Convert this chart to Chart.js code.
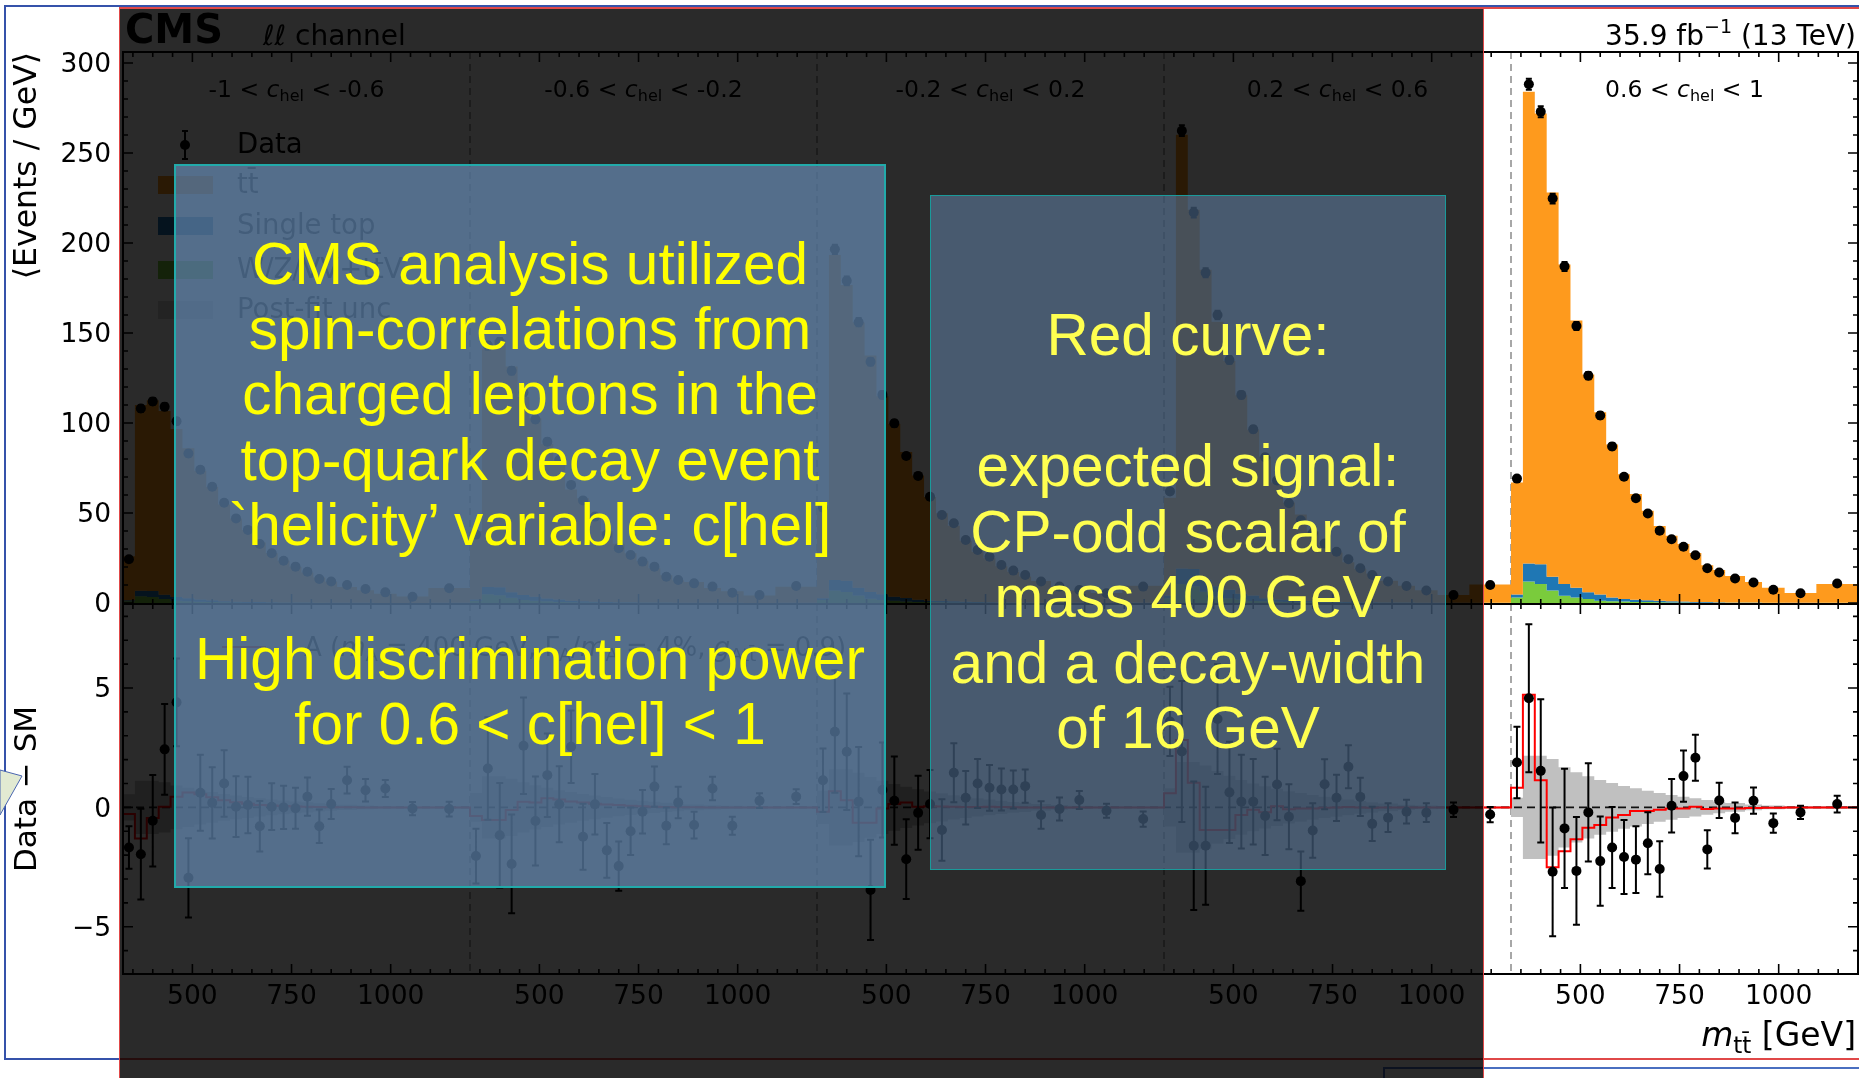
<!DOCTYPE html>
<html><head><meta charset="utf-8">
<script src="https://cdn.jsdelivr.net/npm/chart.js@4.4.1/dist/chart.umd.min.js"></script>
<style>
html,body{margin:0;padding:0;background:#fff;}
body{width:1859px;height:1078px;position:relative;overflow:hidden;font-family:'DejaVu Sans',sans-serif;}
canvas{position:absolute;left:0;top:0;}
.ln{position:absolute;}
.box{position:absolute;box-sizing:border-box;}
.txt{position:absolute;text-align:center;white-space:pre;font-family:'Liberation Sans',Arial,sans-serif;font-size:58.5px;line-height:65.4px;}
</style></head><body>
<div class="ln" style="left:5px;top:5px;width:1854px;height:2px;background:#3552aa"></div>
<div class="ln" style="left:4px;top:5px;width:2px;height:1055px;background:#3552aa"></div>
<div class="ln" style="left:4px;top:1058px;width:116px;height:2px;background:#3552aa"></div>
<canvas id="cTop" width="1859" height="1078"></canvas>
<canvas id="cBot" width="1859" height="1078"></canvas>
<div class="ln" style="left:119px;top:1058px;width:1740px;height:1.5px;background:#e04848"></div>
<div class="ln" style="left:1384px;top:1067px;width:475px;height:1.5px;background:#4a6fc0"></div>
<div class="ln" style="left:1383px;top:1067px;width:1.5px;height:11px;background:#4a6fc0"></div>
<svg style="position:absolute;left:0;top:760px" width="30" height="60"><polygon points="0,10 22,16 0,55" fill="#e2ead2" stroke="#4a66b0" stroke-width="1"/></svg>
<div class="box" style="left:119px;top:8px;width:1364px;height:1070px;background:rgba(0,0,0,0.835)"></div>
<div class="ln" style="left:119px;top:7px;width:1740px;height:1.5px;background:#e04848"></div>
<div class="ln" style="left:118.5px;top:7px;width:1.5px;height:1071px;background:#e04848"></div>
<div class="ln" style="left:1482.5px;top:7px;width:1.5px;height:1071px;background:#e04848"></div>
<div class="box" style="left:174px;top:164px;width:712px;height:724px;background:rgba(112,155,204,0.6);border:2px solid #22aaaa"></div>
<div class="box" style="left:930px;top:195px;width:516px;height:675px;background:rgba(112,155,204,0.42);border:1.5px solid #1a9a9a"></div>
<div class="txt" style="left:174px;top:230.5px;width:712px;color:#ffff00">CMS analysis utilized
spin-correlations from
charged leptons in the
top-quark decay event
`helicity’ variable: c[hel]</div>
<div class="txt" style="left:174px;top:625.5px;width:712px;color:#ffff00;line-height:65px">High discrimination power
for 0.6 &lt; c[hel] &lt; 1</div>
<div class="txt" style="left:930px;top:302px;width:516px;color:#ffff50;line-height:65.5px">Red curve:

expected signal:
CP-odd scalar of
mass 400 GeV
and a decay-width
of 16 GeV</div>
<script>
// ---------- data ----------
const binEdges = [325,355,385,415,445,475,505,535,565,595,625,655,685,715,745,775,805,835,865,915,958,1015,1095,1200];
const panelRanges = [['-1','-0.6'],['-0.6','-0.2'],['-0.2','0.2'],['0.2','0.6'],['0.6','1']];
const xTickLabels = [500,750,1000];
const yTicksUpper = [0,50,100,150,200,250,300];
const yTicksLower = [-5,0,5];

const dataEvents = [
 [24.3,108,112,109,101,83,74,64.6,55.7,47,40.6,32.8,27.6,23.5,20.2,17.4,13.3,11.9,10,7.8,5.9,3.5,8.2],
 [38,143,145,129,117,102,89.6,79.4,65.6,57,48,38,30.4,26.7,23,20.2,14.6,12.8,10.9,9.1,5.7,4.4,9.4],
 [53,196.5,179,156,134,115.6,99.8,81.7,70.6,59,48.9,44.3,35,29.4,25.7,21.1,18,15.6,11.9,9.1,7.2,5.4,9.1],
 [62,262.4,216.9,183.5,160,135,115.6,96.5,81,68,55.4,46,38.7,33,28.5,24.3,19.3,15.6,11.9,9.4,6.9,4.4,10],
 [69.1,288.2,272.9,224.7,187,153.9,126.3,104.2,87,70.1,58.2,49.7,40.2,35.4,31.2,26.5,19.3,16.9,13.6,11.4,7.4,5.4,10.8]
];
const predTotal = [
 [26.0,110,112.6,106.6,96.6,86,73.4,64.4,54.7,47,40.5,33.6,27.6,23.5,20.2,17,14.1,11.8,8.9,7.1,5.1,3.55,8.3],
 [40,141.4,146.2,131.4,114.4,102.6,88.3,79.3,63.1,58.2,47.9,39.8,32.9,27.7,23.2,19.3,15.4,12.6,11.6,8.3,6.5,4.1,9.0],
 [51.9,193.3,176.7,155.8,137.5,114.9,99.5,83.9,70.8,58.9,49.9,42.9,34.6,28.4,24.9,20.4,17.3,14.7,12.2,9.2,6.9,5.5,9.6],
 [58.4,260.1,218.5,185.1,156.3,134.4,115.4,96.3,81.4,67,55.8,49.1,39.7,32,28.1,22.6,18.9,16.3,12.3,9.6,7.1,4.5,10.3],
 [67,284,272,228,188,157,127,106,88,71.5,60.6,51.3,42.8,37.4,32.8,27.8,20.9,18.3,15,11.6,8.4,5.6,10.6]
];
const singleTop = [
 [0.5,3.1,3.4,2.4,2.0,1.7,1.2,1.0,0.6,0.45,0.4,0.3,0.25,0.2,0.15,0.12,0.1,0.1,0.06,0.05,0.03,0.02,0.03],
 [0.7,4.1,4.5,3.1,2.7,2.2,1.6,1.4,0.8,0.6,0.5,0.4,0.3,0.3,0.2,0.16,0.12,0.12,0.08,0.06,0.04,0.02,0.04],
 [1.0,5.8,6.3,4.4,3.8,3.1,2.2,2.0,1.2,0.8,0.7,0.6,0.5,0.4,0.3,0.23,0.17,0.17,0.12,0.09,0.06,0.03,0.06],
 [1.5,8.7,9.6,6.7,5.8,4.8,3.3,3.0,1.8,1.2,1.1,0.9,0.7,0.6,0.45,0.35,0.26,0.26,0.18,0.13,0.09,0.04,0.09],
 [1.7,9.9,10.9,7.6,6.6,5.4,3.8,3.4,2,1.4,1.2,1,0.8,0.7,0.5,0.4,0.3,0.3,0.2,0.15,0.1,0.05,0.1]
];
const vvTtv = [
 [1.0,3.7,3.3,2.2,1.3,1.0,0.7,0.5,0.4,0.3,0.2,0.2,0.1,0.1,0.1,0.1,0.1,0.05,0.05,0.05,0.03,0.02,0.05],
 [1.2,4.8,4.3,2.9,1.7,1.2,0.9,0.6,0.4,0.3,0.25,0.2,0.15,0.1,0.1,0.1,0.1,0.05,0.05,0.05,0.03,0.02,0.05],
 [1.7,7.0,6.1,4.1,2.3,1.7,1.3,0.8,0.6,0.5,0.35,0.3,0.2,0.2,0.15,0.1,0.1,0.1,0.05,0.05,0.05,0.03,0.05],
 [2.6,10.5,9.3,6.2,3.5,2.6,1.9,1.1,0.9,0.7,0.5,0.4,0.35,0.3,0.25,0.2,0.2,0.1,0.1,0.1,0.1,0.05,0.1],
 [3,12,10.6,7,4,3,2.2,1.3,1,0.8,0.6,0.5,0.4,0.3,0.3,0.2,0.2,0.1,0.1,0.1,0.1,0.05,0.1]
];
const dataMinusSM = [
 [-1.68,-1.96,-0.56,2.43,4.4,-2.95,0.61,0.19,1.0,0.03,0.1,-0.79,0.03,0.0,-0.04,0.45,-0.79,0.14,1.14,0.72,0.79,-0.05,-0.07],
 [-2.04,1.63,-1.17,-2.37,2.58,-0.57,1.35,0.13,2.54,-1.23,0.13,-1.8,-2.46,-1.0,-0.18,0.87,-0.77,0.2,-0.74,0.79,-0.77,0.28,0.45],
 [1.14,3.17,2.33,0.24,-3.46,0.73,0.28,-2.17,-0.23,0.14,-0.95,1.45,0.4,1.0,0.82,0.75,0.75,0.89,-0.32,-0.07,0.31,-0.14,-0.49],
 [3.6,2.34,-1.61,-1.61,3.7,0.63,0.24,0.24,-0.36,0.96,-0.39,-3.09,-0.97,0.97,0.4,1.7,0.44,-0.69,-0.43,-0.18,-0.22,-0.1,-0.3],
 [1.88,4.57,1.53,-2.70,-0.88,-2.66,-0.21,-2.25,-1.68,-2.08,-2.19,-1.50,-2.58,0.07,1.31,2.08,-1.76,0.29,-0.44,0.28,-0.66,-0.21,0.14]
];
const dataErr = [
 [0.89,1.9,1.92,1.9,1.84,1.66,1.59,1.49,1.39,1.27,1.18,1.06,0.98,0.91,0.86,0.8,0.7,0.63,0.56,0.47,0.36,0.28,0.31],
 [1.15,2.15,2.19,2.07,2.02,1.86,1.75,1.59,1.52,1.38,1.27,1.15,1.03,1.0,0.91,0.84,0.77,0.66,0.56,0.49,0.38,0.31,0.31],
 [1.33,2.56,2.44,2.29,2.1,1.99,1.85,1.67,1.55,1.43,1.29,1.24,1.12,1.03,0.96,0.88,0.8,0.7,0.58,0.48,0.38,0.29,0.32],
 [1.45,2.95,2.69,2.47,2.3,2.12,1.96,1.79,1.64,1.5,1.36,1.24,1.14,1.05,0.97,0.9,0.8,0.72,0.6,0.5,0.39,0.3,0.32],
 [1.5,3.1,3.0,2.7,2.5,2.26,2.06,1.87,1.7,1.55,1.4,1.3,1.16,1.12,1.07,0.96,0.8,0.74,0.64,0.55,0.4,0.28,0.35]
];
const signalA = [
 [-0.28,-1.3,-0.45,0.03,0.45,0.62,0.55,0.42,0.3,0.22,0.15,0.1,0.08,0.06,0.04,0.03,0.02,0.01,0.01,0,0,0,0],
 [-0.36,-0.53,-0.53,-0.11,0.24,0.2,0.38,0.33,0.25,0.2,0.15,0.12,0.1,0.07,0.05,0.03,0.02,0.01,0.01,0,0,0,0],
 [-0.18,0.68,0.3,-0.64,-0.64,-0.05,0.14,0.2,0.03,0.05,0.04,0.03,0.02,0.02,0.03,0.02,0.01,0,0,0,0,0,0],
 [0.59,2.82,1.03,-0.95,-0.95,-0.95,-0.32,-0.1,-0.2,0.05,-0.08,-0.05,-0.05,-0.02,0,0.02,0,-0.02,0,0,0,0,0],
 [0.82,4.72,1.14,-2.51,-1.84,-1.33,-0.85,-0.74,-0.42,-0.32,-0.15,-0.15,-0.10,-0.05,-0.05,0.03,-0.07,-0.05,-0.05,-0.03,-0.02,-0.01,0]
];
const uncBand = [
 [0.55,1.12,1.12,1.05,0.92,0.82,0.72,0.64,0.56,0.5,0.44,0.38,0.33,0.29,0.25,0.21,0.17,0.14,0.11,0.08,0.06,0.05,0.05],
 [0.6,1.3,1.3,1.2,1.05,0.93,0.82,0.72,0.64,0.56,0.5,0.43,0.37,0.32,0.28,0.24,0.19,0.16,0.12,0.09,0.07,0.05,0.05],
 [0.7,1.6,1.6,1.45,1.27,1.12,0.98,0.86,0.76,0.67,0.59,0.51,0.44,0.38,0.33,0.28,0.23,0.19,0.14,0.1,0.07,0.05,0.05],
 [0.8,1.9,1.9,1.75,1.52,1.32,1.15,1.0,0.88,0.78,0.68,0.6,0.52,0.45,0.39,0.33,0.27,0.22,0.16,0.11,0.08,0.06,0.05],
 [0.4,2.16,2.16,2.03,1.68,1.47,1.3,1.15,1.02,0.9,0.8,0.7,0.6,0.52,0.45,0.38,0.31,0.25,0.18,0.12,0.08,0.06,0.06]
];

// ---------- helpers ----------
const ORANGE='#fe9a1d', BLUE='#1f77b4', GREEN='#7acb3c';
const NP = panelRanges.length;
const M0 = binEdges[0], SPAN = binEdges[binEdges.length-1]-binEdges[0];
const gx = (p, m) => p*SPAN + (m - M0);
const XMAX = NP*SPAN;
function histPts(rows){
  const pts=[];
  rows.forEach((row,p)=>row.forEach((v,i)=>pts.push({x:gx(p,binEdges[i]),y:v})));
  const last=rows[NP-1];
  pts.push({x:gx(NP-1,binEdges[binEdges.length-1]),y:last[last.length-1]});
  return pts;
}
function centerPts(rows){
  const pts=[];
  rows.forEach((row,p)=>row.forEach((v,i)=>pts.push({x:gx(p,(binEdges[i]+binEdges[i+1])/2),y:v})));
  return pts;
}
const sumRows=(a,b)=>a.map((r,p)=>r.map((v,i)=>v+b[p][i]));
const negRows=a=>a.map(r=>r.map(v=>-v));
const FF="'DejaVu Sans'";
const fontStr=p=>`${p.style||'normal'} ${p.weight||'normal'} ${p.size}px ${FF}`;
function richText(ctx,parts,x,y,align){
  let w=0;
  parts.forEach(p=>{ctx.font=fontStr(p);p.w=ctx.measureText(p.t).width;w+=p.w;});
  let cx = align==='center'? x-w/2 : align==='right'? x-w : x;
  ctx.textAlign='left';ctx.textBaseline='alphabetic';
  parts.forEach(p=>{ctx.font=fontStr(p);ctx.fillText(p.t,cx,y+(p.dy||0));cx+=p.w;});
}
function drawSeparators(chart){
  const {ctx,chartArea:a,scales:{x}}=chart;
  ctx.save();ctx.strokeStyle='#8a8a8a';ctx.lineWidth=1.5;ctx.setLineDash([7,5]);
  ctx.beginPath();
  for(let p=1;p<NP;p++){const px=x.getPixelForValue(gx(p,M0));ctx.moveTo(px,a.top);ctx.lineTo(px,a.bottom);}
  ctx.stroke();ctx.restore();
}
function drawFrame(chart,yId,majors,minorStep){
  const {ctx,chartArea:a,scales}=chart;const x=scales.x,y=scales[yId];
  ctx.save();ctx.strokeStyle='#000';ctx.lineWidth=1.6;ctx.setLineDash([]);ctx.beginPath();
  for(let p=0;p<NP;p++){
    for(let m=350;m<binEdges[binEdges.length-1];m+=50){
      const px=x.getPixelForValue(gx(p,m));const L=xTickLabels.includes(m)?10:5;
      ctx.moveTo(px,a.top);ctx.lineTo(px,a.top+L);ctx.moveTo(px,a.bottom);ctx.lineTo(px,a.bottom-L);
    }
  }
  for(let v=Math.ceil(y.min/minorStep)*minorStep; v<=y.max; v+=minorStep){
    const py=y.getPixelForValue(v);const L=majors.includes(v)?10:5;
    ctx.moveTo(a.left,py);ctx.lineTo(a.left+L,py);ctx.moveTo(a.right,py);ctx.lineTo(a.right-L,py);
  }
  ctx.stroke();ctx.lineWidth=2;ctx.strokeRect(a.left,a.top,a.right-a.left,a.bottom-a.top);ctx.restore();
}
function drawErr(ctx,x,y,vals,errs,cap){
  ctx.save();ctx.strokeStyle='#000';ctx.lineWidth=2;ctx.beginPath();
  vals.forEach((row,p)=>row.forEach((v,i)=>{
    const px=x.getPixelForValue(gx(p,(binEdges[i]+binEdges[i+1])/2));
    const y1=y.getPixelForValue(v+errs[p][i]),y2=y.getPixelForValue(v-errs[p][i]);
    ctx.moveTo(px,y1);ctx.lineTo(px,y2);
    ctx.moveTo(px-cap,y1);ctx.lineTo(px+cap,y1);ctx.moveTo(px-cap,y2);ctx.lineTo(px+cap,y2);
  }));
  ctx.stroke();ctx.restore();
}
const stepBase={type:'line',stepped:'before',pointRadius:0,borderWidth:0,borderColor:'rgba(0,0,0,0)',tension:0};
const pointBase={type:'line',showLine:false,pointRadius:5,pointHoverRadius:5,pointBackgroundColor:'#000',pointBorderColor:'#000',pointBorderWidth:0,borderColor:'#000',backgroundColor:'#000',fill:false};
Chart.defaults.font.family=FF;
Chart.defaults.color='#000';

// ---------- upper chart ----------
const upperDeco={id:'upperDeco',
  beforeDatasetsDraw(chart){drawSeparators(chart);},
  afterDatasetsDraw(chart){
    const {ctx,scales:{x,y}}=chart;
    drawErr(ctx,x,y,dataEvents,dataErr,3);
    drawFrame(chart,'y',yTicksUpper,10);
    ctx.save();ctx.fillStyle='#000';
    richText(ctx,[{t:'CMS',size:40,weight:'bold'}],125,43,'left');
    richText(ctx,[{t:'ℓℓ',size:28,style:'italic'},{t:' channel',size:28}],263,45,'left');
    richText(ctx,[{t:'35.9 fb',size:28},{t:'\u22121',size:19,dy:-12},{t:' (13 TeV)',size:28}],1856,45,'right');
    panelRanges.forEach((r,p)=>{
      const cx=x.getPixelForValue(gx(p,(binEdges[0]+binEdges[binEdges.length-1])/2));
      richText(ctx,[{t:r[0]+' < ',size:23.5},{t:'c',size:23.5,style:'italic'},{t:'hel',size:16,dy:4},{t:' < '+r[1],size:23.5}],cx,97,'center');
    });
    // legend
    ctx.strokeStyle='#000';ctx.lineWidth=2;ctx.beginPath();
    ctx.moveTo(185,131);ctx.lineTo(185,159);ctx.moveTo(182,131);ctx.lineTo(188,131);ctx.moveTo(182,159);ctx.lineTo(188,159);ctx.stroke();
    ctx.beginPath();ctx.arc(185,145,5,0,Math.PI*2);ctx.fill();
    const items=[['Data',null,145],['tt\u0304',ORANGE,185],['Single top',BLUE,226],['W/Z/VV+tt\u0304V',GREEN,270],['Post-fit unc','rgba(128,128,128,0.35)',310]];
    ctx.font=`27.5px ${FF}`;ctx.textBaseline='middle';ctx.textAlign='left';
    items.forEach(([t,c,yy])=>{ if(c){ctx.fillStyle=c;ctx.fillRect(158,yy-9,55,18);} ctx.fillStyle='#000';ctx.fillText(t,237,yy+1);});
    ctx.restore();
  }};
new Chart(document.getElementById('cTop'),{
  type:'line',
  data:{datasets:[
    {...pointBase,label:'Data',data:centerPts(dataEvents),order:0},
    {...stepBase,label:'W/Z/VV+ttV',data:histPts(vvTtv),fill:'origin',backgroundColor:GREEN,order:9},
    {...stepBase,label:'Single top',data:histPts(sumRows(vvTtv,singleTop)),fill:'-1',backgroundColor:BLUE,order:8},
    {...stepBase,label:'tt',data:histPts(predTotal),fill:'-1',backgroundColor:ORANGE,order:7}
  ]},
  options:{responsive:false,animation:false,devicePixelRatio:1,events:[],
    layout:{autoPadding:false,padding:{top:52,bottom:474,left:0,right:1}},
    plugins:{legend:{display:false},tooltip:{enabled:false}},
    scales:{
      x:{type:'linear',min:0,max:XMAX,display:false},
      y:{type:'linear',min:-0.56,max:306.1,
         afterFit(s){s.width=123;},
         afterBuildTicks(s){s.ticks=yTicksUpper.map(v=>({value:v}));},
         grid:{display:false,drawTicks:false},border:{display:false},
         ticks:{color:'#000',font:{size:26.5},padding:12,labelOffset:2.5},
         title:{display:true,text:'\u27E8Events / GeV\u27E9',align:'end',color:'#000',font:{size:31.5},padding:{top:9,bottom:0}}}
    }},
  plugins:[upperDeco]
});

// ---------- lower chart ----------
const lowerDeco={id:'lowerDeco',
  beforeDatasetsDraw(chart){drawSeparators(chart);},
  afterDatasetsDraw(chart){
    const {ctx,scales:{x,y}}=chart;
    drawErr(ctx,x,y,dataMinusSM,dataErr,3.5);
    drawFrame(chart,'y',yTicksLower,1);
    ctx.save();ctx.fillStyle='#000';
    richText(ctx,[{t:'m',size:33,style:'italic'},{t:'tt\u0304',size:23,dy:7},{t:' [GeV]',size:33}],1856,1046,'right');
    ctx.strokeStyle='#ff0000';ctx.lineWidth=2;ctx.beginPath();ctx.moveTo(222,647);ctx.lineTo(266,647);ctx.stroke();
    richText(ctx,[{t:'A (',size:26},{t:'m',size:26,style:'italic'},{t:'A',size:18,dy:5},{t:' = 400 GeV, \u0393',size:26},{t:'A',size:18,dy:5},
      {t:'/',size:26},{t:'m',size:26,style:'italic'},{t:'A',size:18,dy:5},{t:' = 4%, ',size:26},{t:'g',size:26,style:'italic'},{t:'Att\u0304',size:18,dy:5},{t:' = 0.9)',size:26}],304,656,'left');
    ctx.restore();
  }};
new Chart(document.getElementById('cBot'),{
  type:'line',
  data:{datasets:[
    {...pointBase,label:'Data - SM',data:centerPts(dataMinusSM),order:0},
    {...stepBase,label:'A signal',data:histPts(signalA),borderColor:'#ff0000',borderWidth:2,fill:false,order:1},
    {type:'line',label:'zero',data:[{x:0,y:0},{x:XMAX,y:0}],borderColor:'#111',borderWidth:1.8,borderDash:[8,5],pointRadius:0,fill:false,order:2},
    {...stepBase,label:'unc-',data:histPts(negRows(uncBand)),fill:false,order:5},
    {...stepBase,label:'unc+',data:histPts(uncBand),fill:'-1',backgroundColor:'#c0c0c0',order:4}
  ]},
  options:{responsive:false,animation:false,devicePixelRatio:1,events:[],
    layout:{autoPadding:false,padding:{top:604,bottom:0,left:0,right:1}},
    plugins:{legend:{display:false},tooltip:{enabled:false}},
    scales:{
      x:{type:'linear',min:0,max:XMAX,
         afterFit(s){s.height=104;},
         afterBuildTicks(s){const t=[];for(let p=0;p<NP;p++)xTickLabels.forEach(m=>t.push({value:gx(p,m)}));s.ticks=t;},
         grid:{display:false,drawTicks:false},border:{display:false},
         ticks:{color:'#000',font:{size:26.5},padding:7.5,autoSkip:false,maxRotation:0,minRotation:0,
           callback:(v)=>String(Math.round(((v%SPAN)+SPAN)%SPAN+M0))}},
      y:{type:'linear',min:-6.98,max:8.52,
         afterFit(s){s.width=123;},
         afterBuildTicks(s){s.ticks=yTicksLower.map(v=>({value:v}));},
         grid:{display:false,drawTicks:false},border:{display:false},
         ticks:{color:'#000',font:{size:26.5},padding:12,labelOffset:2.5,callback:(v)=>v<0?'\u2212'+Math.abs(v):String(v)},
         title:{display:true,text:'Data \u2212 SM',align:'center',color:'#000',font:{size:31},padding:{top:9,bottom:0}}}
    }},
  plugins:[lowerDeco]
});
</script>
</body></html>
